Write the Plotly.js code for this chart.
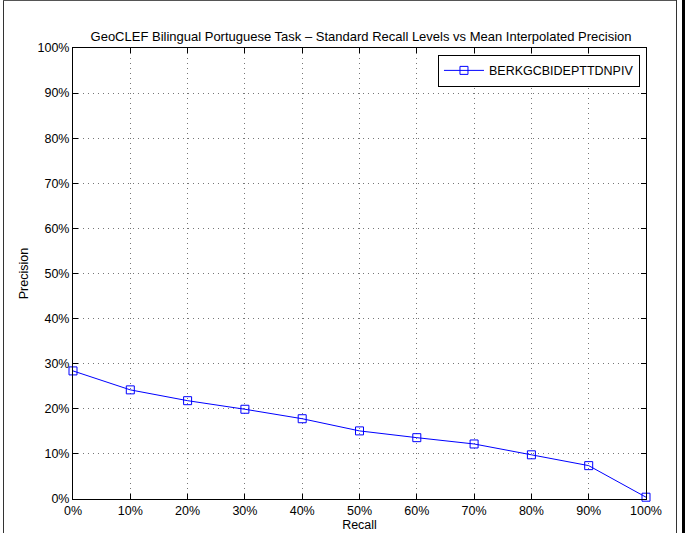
<!DOCTYPE html>
<html>
<head>
<meta charset="utf-8">
<script src="https://cdn.plot.ly/plotly-3.0.1.min.js"></script>
<style>
  html, body { margin: 0; padding: 0; background: #fff; }
  #wrap { position: relative; width: 685px; height: 533px; overflow: hidden; }
  #chart { position: absolute; left: 0; top: 0; width: 685px; height: 533px; }
  .fl { position: absolute; background: #333; }
</style>
</head>
<body>
<div id="wrap">
  <div id="chart"></div>
  <div class="fl" style="left:3px; top:0; width:1px; height:533px;"></div>
  <div class="fl" style="left:3px; top:0; width:674px; height:1px; background:#555;"></div>
  <div class="fl" style="left:676px; top:0; width:1px; height:533px;"></div>
  <div class="fl" style="left:682px; top:0; width:3px; height:533px; background:#000;"></div>
</div>
<script>
const recallLevels = [0, 10, 20, 30, 40, 50, 60, 70, 80, 90, 100];
const precisionValues = [28.4, 24.2, 21.8, 19.9, 17.8, 15.1, 13.6, 12.2, 9.8, 7.4, 0.4];
const seriesName = 'BERKGCBIDEPTTDNPIV';
const tickVals = [0, 10, 20, 30, 40, 50, 60, 70, 80, 90, 100];
const tickText = tickVals.map(v => v + '%');

const font = {family: 'Liberation Sans, Arial, sans-serif', size: 12.5, color: '#000'};

const trace = {
  x: recallLevels,
  y: precisionValues,
  type: 'scatter',
  mode: 'lines+markers',
  name: seriesName,
  line: {color: '#0000ff', width: 1},
  marker: {symbol: 'square-open', size: 8, color: '#0000ff', line: {width: 1, color: '#0000ff'}},
  cliponaxis: false
};

const axisCommon = {
  range: [0, 100],
  tickvals: tickVals,
  ticktext: tickText,
  showline: true,
  linecolor: '#000',
  linewidth: 1,
  mirror: 'ticks',
  ticks: 'inside',
  ticklen: 5,
  tickcolor: '#000',
  showgrid: true,
  gridcolor: '#777',
  griddash: '1px,4px',
  gridwidth: 1,
  zeroline: false,
  tickfont: font,
  fixedrange: true
};

const layout = {
  width: 685,
  height: 533,
  margin: {l: 73, r: 39, t: 48, b: 34},
  paper_bgcolor: '#fff',
  plot_bgcolor: '#fff',
  font: font,
  title: {
    text: 'GeoCLEF Bilingual Portuguese Task – Standard Recall Levels vs Mean Interpolated Precision',
    font: {family: 'Liberation Sans, Arial, sans-serif', size: 13, color: '#000'},
    x: 0.5271, xanchor: 'center', y: 0.932, yanchor: 'middle'
  },
  xaxis: Object.assign({}, axisCommon, {
    title: {text: 'Recall', font: font, standoff: 3}
  }),
  yaxis: Object.assign({}, axisCommon, {
    title: {text: 'Precision', font: font, standoff: 6}
  }),
  showlegend: true,
  legend: {
    x: 0.9895, xanchor: 'right',
    y: 0.985, yanchor: 'top',
    bgcolor: '#fff',
    bordercolor: '#000',
    borderwidth: 1,
    font: font,
    itemwidth: 40
  }
};

Plotly.newPlot('chart', [trace], layout, {displayModeBar: false, staticPlot: true});
</script>
</body>
</html>
